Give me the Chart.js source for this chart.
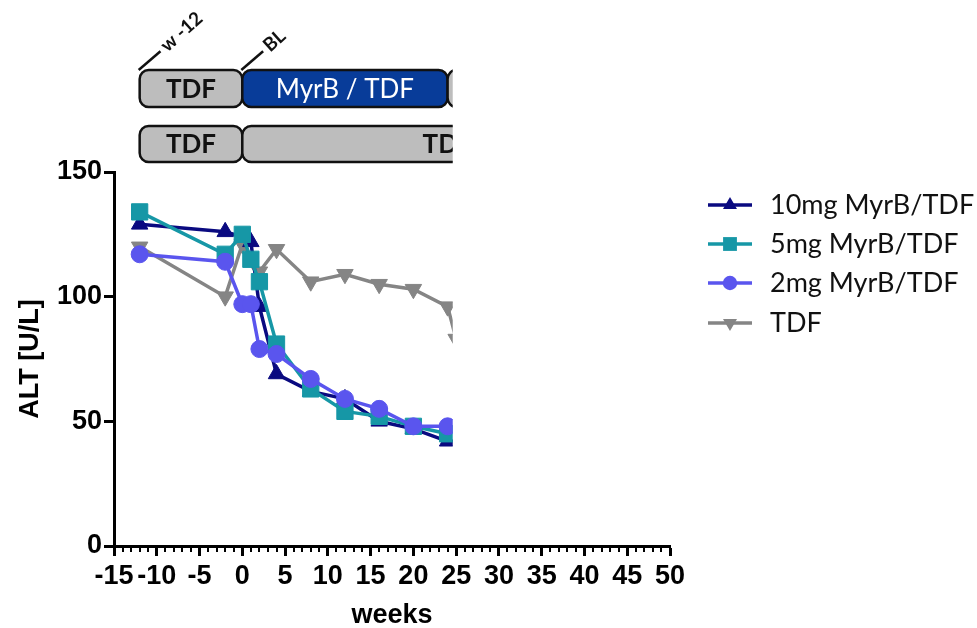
<!DOCTYPE html>
<html>
<head>
<meta charset="utf-8">
<script src="https://cdn.jsdelivr.net/npm/chart.js@4"></script>
<style>
  body { margin: 0; background: #fff; }
  canvas { display: block; }
</style>
</head>
<body>
<canvas id="altChart" width="977" height="628"></canvas>
<script>
// ALT over time per arm
const weeksMyrB = [-12, -2, 0, 1, 2, 4, 8, 12, 16, 20, 24];
const alt10mg = [129, 126, 124, 122, 96, 69, 62, 59, 50, 47, 42];
const alt5mg = [134, 117, 125, 115, 106, 81, 63, 54, 52, 48, 45];
const alt2mg = [117, 114, 97, 97, 79, 77, 67, 59, 55, 48, 48];
const weeksTdf = [-12, -2, 0, 2, 4, 8, 12, 16, 20, 24, 25];
const altTdf = [120, 100, 121, 110, 119, 106, 109, 105, 103, 96, 83];

const seriesNames = ['10mg MyrB/TDF', '5mg MyrB/TDF', '2mg MyrB/TDF', 'TDF'];

// treatment phases shown above the plot (weeks)
const phaseBoundsTop = [-12, 0, 24, 48];
const phaseLabelsTop = ['TDF', 'MyrB / TDF', 'TDF'];
const phaseBoundsBottom = [-12, 0, 48];
const phaseLabelsBottom = ['TDF', 'TDF'];
const timepointWeeks = [-12, 0];
const timepointLabels = ['w -12', 'BL'];

// everything right of this week is blanked out
const cutoffWeek = 24.6;

const toPoints = (xs, ys) => xs.map((x, i) => ({ x: x, y: ys[i] }));

const NAVY = '#0a0a80';
const TEAL = '#1697a6';
const VIOLET = '#5a55ee';
const GREY = '#858585';

const datasets = [
  { label: seriesNames[0], data: toPoints(weeksMyrB, alt10mg), borderColor: NAVY, backgroundColor: NAVY,
    pointStyle: 'triangle', pointRadius: 9.5, order: 2 },
  { label: seriesNames[1], data: toPoints(weeksMyrB, alt5mg), borderColor: TEAL, backgroundColor: TEAL,
    pointStyle: 'rect', pointRadius: 11.5, order: 1 },
  { label: seriesNames[2], data: toPoints(weeksMyrB, alt2mg), borderColor: VIOLET, backgroundColor: VIOLET,
    pointStyle: 'circle', pointRadius: 8.5, order: 0 },
  { label: seriesNames[3], data: toPoints(weeksTdf, altTdf), borderColor: GREY, backgroundColor: GREY,
    pointStyle: 'triangle', pointRotation: 180, pointRadius: 9.5, order: 3 }
];
datasets.forEach(d => {
  d.borderWidth = 3.5;
  d.pointBorderWidth = 1;
  d.tension = 0;
  d.clip = false;
});

const cutoffClip = {
  id: 'cutoffClip',
  beforeDatasetsDraw(chart) {
    const ctx = chart.ctx;
    ctx.save();
    ctx.beginPath();
    ctx.rect(0, 0, chart.scales.x.getPixelForValue(cutoffWeek), chart.height);
    ctx.clip();
  },
  afterDatasetsDraw(chart) {
    chart.ctx.restore();
  }
};

const minorTicks = {
  id: 'minorTicks',
  afterDraw(chart) {
    const ctx = chart.ctx;
    const x = chart.scales.x;
    const y0 = chart.chartArea.bottom;
    ctx.save();
    ctx.strokeStyle = '#000';
    ctx.lineWidth = 2;
    for (let w = x.min; w <= x.max; w++) {
      if (w % 5 === 0) continue;
      const px = Math.round(x.getPixelForValue(w));
      ctx.beginPath();
      ctx.moveTo(px, y0);
      ctx.lineTo(px, y0 + 6);
      ctx.stroke();
    }
    ctx.restore();
  }
};

function drawPhaseRow(ctx, x, bounds, labels, top, h, fills, colors, fonts) {
  for (let i = 0; i < labels.length; i++) {
    const l = x.getPixelForValue(bounds[i]);
    const r = x.getPixelForValue(bounds[i + 1]);
    ctx.beginPath();
    ctx.roundRect(l, top, r - l, h, 9);
    ctx.fillStyle = fills[i];
    ctx.fill();
    ctx.lineWidth = 2.5;
    ctx.strokeStyle = '#111';
    ctx.stroke();
    ctx.font = fonts[i];
    ctx.fillStyle = colors[i];
    ctx.fillText(labels[i], (l + r) / 2, top + h / 2 + 1);
  }
}

const phaseBars = {
  id: 'phaseBars',
  afterDraw(chart) {
    const ctx = chart.ctx;
    const x = chart.scales.x;
    const boldFont = 'bold 26px Lato';
    const plainFont = '26px Lato';
    ctx.save();
    ctx.beginPath();
    ctx.rect(0, 0, x.getPixelForValue(cutoffWeek), chart.chartArea.top - 4);
    ctx.clip();
    ctx.textAlign = 'center';
    ctx.textBaseline = 'middle';

    drawPhaseRow(ctx, x, phaseBoundsTop, phaseLabelsTop, 70, 37,
      ['#bdbdbd', '#083c99', '#bdbdbd'], ['#111', '#fff', '#111'], [boldFont, plainFont, boldFont]);
    drawPhaseRow(ctx, x, phaseBoundsBottom, phaseLabelsBottom, 126, 36,
      ['#bdbdbd', '#bdbdbd'], ['#111', '#111'], [boldFont, boldFont]);

    // slanted time point markers
    ctx.font = 'bold 19px Lato';
    ctx.fillStyle = '#111';
    ctx.strokeStyle = '#111';
    ctx.lineWidth = 2.5;
    const ang = -42 * Math.PI / 180;
    timepointWeeks.forEach((w, i) => {
      const px = x.getPixelForValue(w);
      const ex = px + 28 * Math.cos(ang);
      const ey = 70 + 28 * Math.sin(ang);
      ctx.beginPath();
      ctx.moveTo(px - 1, 70);
      ctx.lineTo(ex, ey);
      ctx.stroke();
      ctx.save();
      ctx.translate(ex + 3, ey - 3);
      ctx.rotate(ang);
      ctx.textAlign = 'left';
      ctx.textBaseline = 'middle';
      ctx.fillText(timepointLabels[i], 0, 0);
      ctx.restore();
    });
    ctx.restore();
  }
};

const sideLegend = {
  id: 'sideLegend',
  afterDraw(chart) {
    const ctx = chart.ctx;
    const rowY = [205, 244, 283, 323];
    ctx.save();
    ctx.font = '27px Lato';
    ctx.textAlign = 'left';
    ctx.textBaseline = 'middle';
    chart.data.datasets.forEach((ds, i) => {
      const y = rowY[i];
      ctx.strokeStyle = ds.borderColor;
      ctx.lineWidth = 3.5;
      ctx.beginPath();
      ctx.moveTo(708, y);
      ctx.lineTo(752, y);
      ctx.stroke();
      ctx.fillStyle = ds.backgroundColor;
      Chart.helpers.drawPoint(ctx, {
        pointStyle: ds.pointStyle,
        rotation: ds.pointRotation || 0,
        radius: ds.pointRadius * 0.85,
        borderWidth: 0
      }, 730, y);
      ctx.fillStyle = '#111';
      ctx.fillText(ds.label, 770, y);
    });
    ctx.restore();
  }
};

const tickFont = { family: "'Liberation Sans Narrow', 'Liberation Sans'", size: 27, weight: 'bold' };
const titleFont = { family: 'Liberation Sans', size: 27, weight: 'bold' };

new Chart(document.getElementById('altChart'), {
  type: 'line',
  data: { datasets: datasets },
  options: {
    responsive: false,
    animation: false,
    devicePixelRatio: 1,
    layout: { padding: { top: 172, right: 307, left: 0, bottom: 0 } },
    plugins: { legend: { display: false }, tooltip: { enabled: false } },
    scales: {
      x: {
        type: 'linear',
        min: -15,
        max: 50,
        border: { display: true, width: 3, color: '#000' },
        grid: { drawOnChartArea: false, drawTicks: true, tickLength: 10, tickWidth: 3, tickColor: '#000' },
        ticks: { stepSize: 5, autoSkip: false, maxRotation: 0, color: '#000', font: tickFont, padding: 4 },
        title: { display: true, text: 'weeks', color: '#000', font: titleFont, padding: { top: 0, bottom: -4 } },
        afterFit(s) { s.height = 82; }
      },
      y: {
        min: 0,
        max: 150,
        border: { display: true, width: 3, color: '#000' },
        grid: { drawOnChartArea: false, drawTicks: true, tickLength: 10, tickWidth: 3, tickColor: '#000' },
        ticks: { stepSize: 50, color: '#000', font: tickFont, padding: 2 },
        title: { display: true, text: 'ALT [U/L]', color: '#000', font: titleFont, padding: { top: 14, bottom: 0 } },
        afterFit(s) { s.width = 114; }
      }
    }
  },
  plugins: [cutoffClip, minorTicks, phaseBars, sideLegend]
});
</script>
</body>
</html>
